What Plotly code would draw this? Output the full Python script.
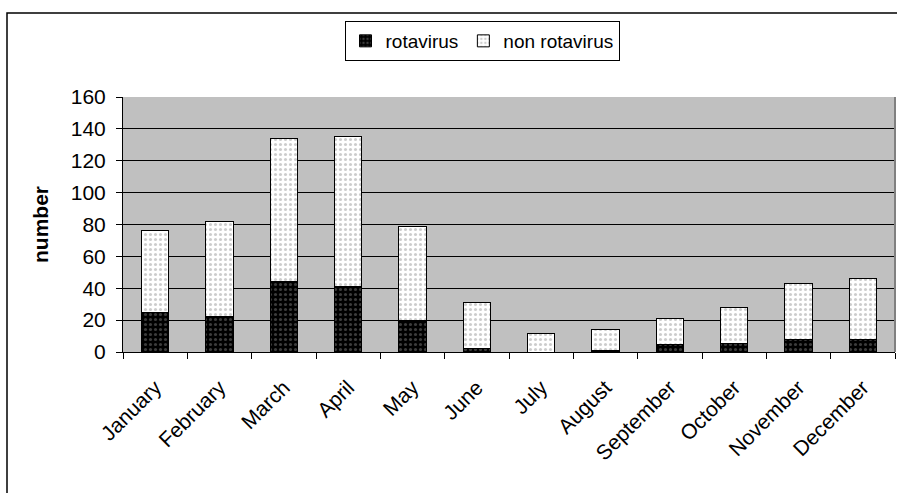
import plotly.graph_objects as go

months = ["January", "February", "March", "April", "May", "June", "July",
          "August", "September", "October", "November", "December"]
rotavirus = [25, 22, 44, 41, 20, 2, 0, 1, 4.5, 5.5, 8, 8]
non_rotavirus = [51, 60, 90, 94, 59, 29, 11.5, 13, 16.5, 22.5, 35, 38]
y_ticks = [0, 20, 40, 60, 80, 100, 120, 140, 160]

W, H = 897, 493
L, R, T, B = 123, 2, 97, 141
pw, ph = W - L - R, H - T - B

def px_x(px):
    return (px - L) / pw

def px_y(py):
    return (H - B - py) / ph

FONT = "Arial, Liberation Sans, Helvetica, sans-serif"

fig = go.Figure()
fig.add_bar(
    x=months, y=rotavirus, name="rotavirus",
    marker=dict(color="black", line=dict(color="black", width=1),
                pattern=dict(shape=".", bgcolor="black", fgcolor="#777777",
                             size=5, solidity=0.3)),
    width=0.42,
)
fig.add_bar(
    x=months, y=non_rotavirus, name="non rotavirus",
    marker=dict(color="white", line=dict(color="black", width=1),
                pattern=dict(shape=".", bgcolor="white", fgcolor="#999999",
                             size=5, solidity=0.3)),
    width=0.42,
)

fig.update_layout(
    barmode="stack",
    width=W, height=H,
    margin=dict(l=L, r=R, t=T, b=B, pad=0),
    paper_bgcolor="white",
    plot_bgcolor="#C0C0C0",
    font=dict(family=FONT, color="black", size=21),
    showlegend=True,
    legend=dict(orientation="h", x=px_x(482), y=px_y(21), xanchor="center",
                yanchor="top", bgcolor="white", bordercolor="black",
                borderwidth=1, font=dict(size=19), traceorder="normal",
                itemwidth=30, tracegroupgap=0),
    xaxis=dict(type="category", tickangle=-45, showline=True, linecolor="black",
               linewidth=1, ticks="outside", tickson="boundaries", ticklen=6,
               tickcolor="black", showgrid=False, mirror=False,
               tickfont=dict(size=21), ticklabelstandoff=14),
    yaxis=dict(range=[0, 160], tickvals=y_ticks, showline=True, linecolor="black",
               linewidth=1, ticks="outside", ticklen=6, tickcolor="black",
               showgrid=True, gridcolor="black", gridwidth=1, zeroline=False,
               tickfont=dict(size=21), ticklabelstandoff=6,
               title=dict(text="<b>number</b>", font=dict(size=21), standoff=16)),
    shapes=[
        dict(type="rect", xref="paper", yref="paper",
             x0=px_x(7), x1=px_x(W + 10), y0=px_y(H + 10), y1=px_y(13),
             line=dict(color="black", width=1.5), layer="below"),
        dict(type="line", xref="paper", yref="paper", x0=1, x1=1, y0=0, y1=1,
             line=dict(color="#808080", width=2)),
    ],
)

fig.write_html(
    "out.html",
    config={"displayModeBar": False},
    post_script="document.body.style.margin='0';document.body.style.overflow='hidden';",
)
